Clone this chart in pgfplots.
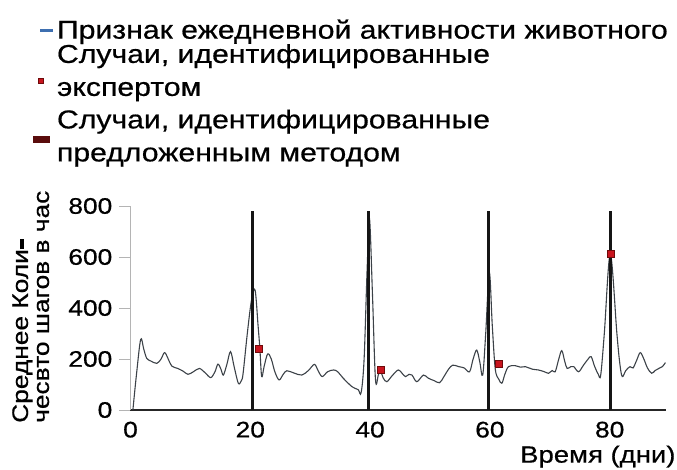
\documentclass[border=0pt]{standalone}
\usepackage{fontspec}
\setmainfont{Liberation Sans}[FakeStretch=1.17, FakeBold=0.6]
\usepackage{pgfplots}
\pgfplotsset{compat=1.18}
\definecolor{curvegray}{HTML}{3C4248}
\definecolor{legblue}{HTML}{3E6FB0}
\definecolor{sqred}{HTML}{C8141E}
\definecolor{sqedge}{HTML}{6E0A0A}
\definecolor{darkmaroon}{HTML}{5A0C0C}
\definecolor{vline}{HTML}{151515}
\definecolor{ygray}{HTML}{B4B4B4}

\begin{document}
\begin{tikzpicture}
\begin{axis}[
  at={(130.5pt,-410pt)}, anchor=south west,
  scale only axis, width=535.5pt, height=204pt,
  xmin=0, xmax=89.4, ymin=0, ymax=800,
  axis x line*=bottom, axis y line*=left,
  x axis line style={-, draw=black!85, line width=1.2pt},
  y axis line style={-, draw=ygray, line width=1pt},
  xtick={0,20,40,60,80}, ytick={0,200,400,600,800},
  tick align=outside,
  major tick length=11pt,
  xtick style={draw=none},
  ytick style={draw=ygray, line width=1pt},
  /pgf/number format/assume math mode=true,
  ticklabel style={font=\fontsize{22.5}{22.5}\selectfont},
  yticklabel style={inner sep=0pt, xshift=-7pt},
  xticklabel style={inner sep=0pt, yshift=-0.5pt},
  xlabel={Время (дни)},
  xlabel style={at={(axis description cs:1.018,-0.258)}, anchor=base east, inner sep=0pt, font=\fontsize{23.5}{23.5}\selectfont},
  ylabel={Среднее Коли\rule[3.5pt]{10pt}{4.5pt}\\чесвто шагов в час},
  ylabel style={at={(axis description cs:-0.2212,-0.0637)}, anchor=north west, align=left, inner sep=0pt, font=\fontsize{22.5}{21}\selectfont},
  legend style={at={(axis description cs:-0.1821,1.924)}, anchor=north west, draw=none, fill=none, inner sep=0pt, outer sep=0pt, row sep=0pt, column sep=0pt, font=\fontsize{25.8}{33}\selectfont, cells={align=left}},
  legend cell align=left,
]
\addplot[color=curvegray, line width=1.1pt, smooth, tension=0.55, mark=none,
  legend image code/.code={\draw[legblue, line width=3pt] (6pt,-1pt) -- (19pt,-1pt);}]
  table {
x y
0.4 0
1.0 140
1.7 277
2.2 240
2.7 203
3.4 192
4.4 183
5.1 200
5.7 225
6.3 200
6.9 172
7.9 163
8.8 152
9.6 140
10.5 150
11.5 163
12.5 145
13.4 127
14.1 150
14.6 180
15.1 160
15.5 137
16.1 180
16.7 229
17.3 170
18.0 105
18.5 115
18.8 144
19.5 300
20.2 431
20.8 470
21.3 330
21.6 240
21.9 131
22.3 170
22.9 220
23.5 200
24.1 150
24.8 118
25.5 140
26.1 154
27.3 145
28.6 137
29.7 155
30.7 179
31.3 155
32.0 131
32.9 150
33.9 157
34.6 150
35.5 125
37.0 91
38.0 80
38.5 68
39.0 200
39.5 550
39.9 750
40.4 450
40.9 118
41.4 140
41.8 150
42.2 125
42.8 111
43.7 135
44.7 157
45.3 145
45.9 131
46.5 140
47.0 137
47.8 111
48.9 137
49.7 125
50.7 115
51.6 107
52.3 130
53.1 160
53.8 176
54.8 170
55.7 165
56.6 150
57.2 200
57.8 235
58.3 190
58.8 137
59.3 300
59.9 540
60.4 330
60.9 160
61.5 120
62.0 105
62.5 140
63.1 170
64.2 174
65.1 168
65.9 170
67.1 160
68.1 157
69.1 150
69.8 144
70.4 155
70.9 150
71.5 200
72.0 233
72.5 190
72.9 163
73.5 170
74.0 170
74.8 150
75.6 175
76.4 200
76.9 209
77.5 170
78.1 140
78.5 137
79.1 300
80.1 612
81.2 300
81.7 180
82.1 131
82.7 155
83.4 170
83.9 165
84.5 195
85.1 225
85.7 200
86.3 165
87.0 144
87.6 155
88.2 163
88.8 170
89.3 186
};
\addlegendentry{Признак ежедневной активности животного}
\addplot[only marks, mark=square*, mark size=3.5pt, mark options={fill=sqred, draw=sqedge, line width=0.6pt},
  legend image code/.code={\draw[fill=sqred, draw=sqedge, line width=0.6pt] (4pt,-12.5pt) rectangle (9pt,-7.5pt);}]
  table {
x y
21.5 240
41.8 156
61.5 181
80.2 612
};
\addlegendentry{Случаи, идентифицированные\\экспертом}
\addplot[ycomb, color=vline, line width=3pt, mark=none,
  legend image code/.code={\fill[darkmaroon] (0pt,-9.5pt) rectangle (14pt,-5.5pt);}]
  table {
x y
20.4 780
39.8 780
59.8 780
80.2 780
};
\addlegendentry{\rule{0pt}{27pt}Случаи, идентифицированные\\предложенным методом}
\end{axis}
\pgfresetboundingbox
\path[use as bounding box] (0pt,0pt) rectangle (677pt,-470pt);
\end{tikzpicture}
\end{document}
